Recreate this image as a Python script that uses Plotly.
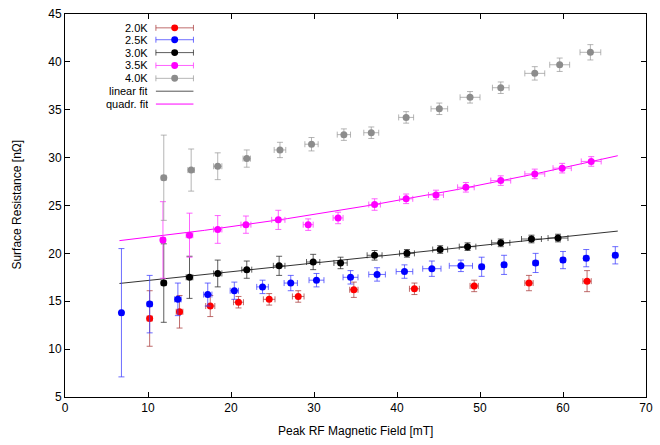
import plotly.graph_objects as go
import numpy as np

# ---- measured data: peak field [mT], surface resistance [nOhm] ----
b_20 = [10.2, 13.8, 17.5, 20.9, 24.6, 28.1, 34.8, 42.1, 49.3, 55.9, 62.9]
r_20 = [13.2, 13.9, 14.5, 14.9, 15.2, 15.5, 16.2, 16.3, 16.6, 16.9, 17.1]
db_20 = [0.3, 0.4, 0.55, 0.6, 0.7, 0.7, 0.5, 0.6, 0.5, 0.5, 0.5]
dr_20 = [2.9, 1.7, 1.1, 0.6, 0.6, 0.6, 0.8, 0.6, 0.6, 0.8, 1.1]

b_25 = [6.8, 10.2, 13.6, 17.2, 20.4, 23.8, 27.2, 30.3, 34.4, 37.6, 40.9, 44.2,
        47.7, 50.2, 52.9, 56.7, 60.0, 62.8, 66.3]
r_25 = [13.8, 14.7, 15.2, 15.7, 16.1, 16.5, 16.9, 17.2, 17.5, 17.8, 18.1, 18.4,
        18.7, 18.6, 18.8, 19.0, 19.3, 19.5, 19.8]
db_25 = [0.2, 0.3, 0.4, 0.5, 0.5, 0.7, 0.8, 0.9, 0.9, 1.0, 1.0, 1.1,
         1.4, 0.3, 0.3, 0.3, 0.3, 0.3, 0.3]
dr_25 = [6.7, 3.0, 1.7, 1.2, 0.9, 0.7, 0.8, 0.7, 0.7, 0.7, 0.7, 0.8,
         0.6, 1.0, 1.0, 1.0, 0.9, 0.9, 0.9]

b_30 = [11.9, 15.0, 18.4, 21.9, 25.8, 29.9, 33.2, 37.3, 41.2, 45.2, 48.5, 52.5,
        56.2, 59.4]
r_30 = [16.9, 17.5, 17.9, 18.3, 18.7, 19.1, 19.0, 19.8, 20.0, 20.4, 20.7, 21.1,
        21.5, 21.6]
db_30 = [0.3, 0.4, 0.5, 0.6, 0.7, 0.8, 0.8, 0.9, 0.9, 0.9, 1.0, 1.1, 1.2, 1.2]
dr_30 = [4.1, 2.2, 1.4, 0.9, 1.0, 0.8, 0.6, 0.5, 0.4, 0.4, 0.4, 0.4, 0.4, 0.4]

b_35 = [11.8, 15.0, 18.4, 21.8, 25.7, 29.3, 32.9, 37.3, 41.1, 44.7, 48.3, 52.5,
        56.6, 59.9, 63.4]
r_35 = [21.4, 21.9, 22.5, 23.0, 23.5, 23.0, 23.7, 25.1, 25.7, 26.1, 26.9, 27.6,
        28.3, 28.9, 29.6]
db_35 = [0.3, 0.4, 0.5, 0.6, 0.8, 0.6, 0.6, 0.7, 0.8, 0.9, 1.0, 1.2, 1.2, 1.1, 1.2]
dr_35 = [4.0, 2.3, 1.45, 0.9, 1.0, 0.6, 0.6, 0.6, 0.5, 0.5, 0.5, 0.5, 0.5, 0.5, 0.5]

b_40 = [11.9, 15.2, 18.4, 21.9, 25.9, 29.7, 33.6, 36.9, 41.1, 45.1, 48.8, 52.5,
        56.6, 59.6, 63.3]
r_40 = [27.9, 28.7, 29.1, 29.9, 30.8, 31.4, 32.4, 32.6, 34.2, 35.1, 36.3, 37.3,
        38.8, 39.7, 41.0]
db_40 = [0.3, 0.4, 0.5, 0.45, 0.7, 0.8, 0.8, 0.9, 0.9, 1.0, 1.2, 1.0, 1.2, 1.2, 1.25]
dr_40 = [4.45, 2.2, 1.4, 0.9, 0.8, 0.7, 0.6, 0.6, 0.6, 0.6, 0.6, 0.6, 0.7, 0.7, 0.8]

labels = ["2.0K", "2.5K", "3.0K", "3.5K", "4.0K"]

# fit parameters and range
lin_coef = [16.26, 0.0911]                 # a + b*B  (3.0K)
quad_coef = [20.735, 0.0851, 0.000856]     # a + b*B + c*B^2  (3.5K)
fit_range = [6.56, 66.6]

series = [
    (b_20, r_20, db_20, dr_20, "#ff0000", "rgba(170,60,60,0.75)"),
    (b_25, r_25, db_25, dr_25, "#0000ff", "rgba(60,60,255,0.75)"),
    (b_30, r_30, db_30, dr_30, "#000000", "rgba(40,40,40,0.75)"),
    (b_35, r_35, db_35, dr_35, "#ff00ff", "rgba(255,60,255,0.8)"),
    (b_40, r_40, db_40, dr_40, "#8c8c8c", "rgba(150,150,150,0.7)"),
]

fig = go.Figure()

bf = np.linspace(fit_range[0], fit_range[1], 200)
fig.add_trace(go.Scatter(x=bf, y=lin_coef[0] + lin_coef[1] * bf, mode="lines",
                         line=dict(color="#333333", width=1), showlegend=False,
                         hoverinfo="skip"))
fig.add_trace(go.Scatter(x=bf, y=quad_coef[0] + quad_coef[1] * bf + quad_coef[2] * bf ** 2,
                         mode="lines", line=dict(color="#ff00ff", width=1),
                         showlegend=False, hoverinfo="skip"))

for (bx, ry, dbx, dry, col, ecol), lab in zip(series, labels):
    fig.add_trace(go.Scatter(
        x=bx, y=ry, mode="markers", name=lab, showlegend=False,
        marker=dict(color=col, size=7, symbol="circle"),
        error_x=dict(type="data", array=dbx, color=ecol, thickness=1, width=3),
        error_y=dict(type="data", array=dry, color=ecol, thickness=1, width=3),
    ))

# key box in the upper left corner (drawn in pixel-based paper coordinates)
W, H = 660, 445
L, R, T, B = 65, 7, 10, 48
pw, ph = W - L - R, H - T - B


def px(xp):
    return (xp - L) / pw


def py(yp):
    return 1 - (yp - T) / ph


key_rows = [24, 36, 49, 62, 75, 88, 101]
key_text = labels + ["linear fit", "quadr. fit"]
key_marker = [s[4] for s in series] + [None, None]
key_line = [s[5] for s in series] + ["#555555", "#ff00ff"]
shapes = []
annotations = []
for yy, txt, mc, lc in zip(key_rows, key_text, key_marker, key_line):
    annotations.append(dict(x=px(150), y=py(yy), xref="paper", yref="paper",
                            text=txt, showarrow=False, xanchor="right",
                            yanchor="middle", height=12, borderpad=0,
                            font=dict(size=11, color="#000000")))
    shapes.append(dict(type="line", xref="paper", yref="paper",
                       x0=px(157), x1=px(195), y0=py(yy), y1=py(yy),
                       line=dict(color=lc, width=1)))
    if mc is not None:
        for xc in (157, 195):
            shapes.append(dict(type="line", xref="paper", yref="paper",
                               x0=px(xc), x1=px(xc), y0=py(yy - 3), y1=py(yy + 3),
                               line=dict(color=lc, width=1)))
        shapes.append(dict(type="circle", xref="paper", yref="paper",
                           x0=px(172.5), x1=px(179.5), y0=py(yy - 3.5), y1=py(yy + 3.5),
                           fillcolor=mc, line=dict(color=mc, width=0)))

annotations.append(dict(x=0.5, y=py(431), xref="paper", yref="paper",
                        text="Peak RF Magnetic Field [mT]", showarrow=False,
                        xanchor="center", yanchor="middle",
                        font=dict(size=12, color="#000000")))
annotations.append(dict(x=px(16), y=py(203), xref="paper", yref="paper",
                        text="Surface Resistance [nΩ]", showarrow=False,
                        textangle=-90, xanchor="center", yanchor="middle",
                        font=dict(size=12, color="#000000")))

axis_common = dict(showgrid=False, zeroline=False, ticks="inside", ticklen=5,
                   tickcolor="#000000", showline=True, linecolor="#000000",
                   linewidth=1, mirror="allticks",
                   tickfont=dict(size=12, color="#000000"))

fig.update_layout(
    width=W, height=H,
    margin=dict(l=L, r=R, t=T, b=B),
    paper_bgcolor="white", plot_bgcolor="white",
    font=dict(family="Liberation Sans, Arial, sans-serif", size=12),
    xaxis=dict(range=[0, 70], tick0=0, dtick=10, **axis_common),
    yaxis=dict(range=[5, 45], tick0=5, dtick=5, **axis_common),
    shapes=shapes, annotations=annotations, showlegend=False,
)

fig.write_html("out.html")
